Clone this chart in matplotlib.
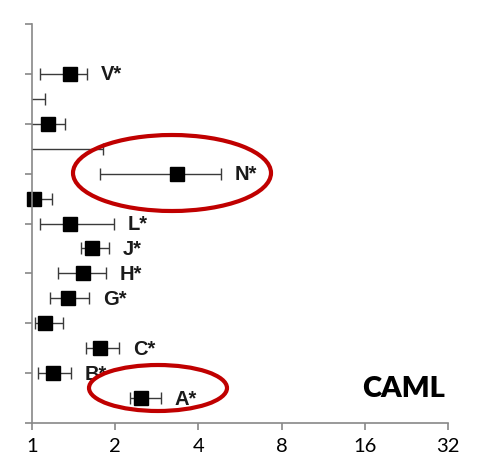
import numpy as np
import matplotlib
matplotlib.use("Agg")
import matplotlib.pyplot as plt
from matplotlib.patches import Ellipse

# rows from bottom (1) to top (14); blank label = unlabeled row
labels = ['A*', 'B*', 'C*', '', 'G*', 'H*', 'J*', 'L*', '', 'N*', '', '', '', 'V*']
means = [2.48, 1.19, 1.76, 1.11, 1.35, 1.53, 1.65, 1.37, 1.017, 3.34, 0.70, 1.145, 0.90, 1.37]
lows = [2.26, 1.054, 1.57, 1.025, 1.16, 1.245, 1.50, 1.07, 0.90, 1.76, 0.40, 0.97, 0.80, 1.07]
highs = [2.92, 1.38, 2.06, 1.29, 1.61, 1.85, 1.90, 1.98, 1.18, 4.82, 1.80, 1.32, 1.11, 1.585]
xticks = [1, 2, 4, 8, 16, 32]

W, H = 479, 460
fig = plt.figure(figsize=(W / 100, H / 100), dpi=100)
ax = fig.add_axes([32 / W, 1 - 424 / H, (448 - 32) / W, (424 - 25) / H])

rows = np.arange(1, len(labels) + 1)
means = np.array(means)
lows = np.array(lows)
highs = np.array(highs)

ax.errorbar(means, rows, xerr=[means - lows, highs - means], fmt='none',
            ecolor='#3a3a3a', elinewidth=1.0, capsize=4.3, capthick=1.0)
vis = means >= 1
ax.plot(means[vis], rows[vis], 's', color='black', markersize=10, clip_on=False)

for r, lab, hi in zip(rows, labels, highs):
    if lab:
        ax.annotate(lab, (hi, r), xytext=(10, 0), textcoords='offset points',
                    ha='left', va='center', fontsize=14.5, fontweight='bold',
                    family='Liberation Sans', color='#1a1a1a')

ax.set_xscale('log', base=2)
ax.set_xlim(1, 32)
ax.set_ylim(0, 16)
ax.set_xticks(xticks)
ax.set_xticklabels([str(t) for t in xticks], family='Lato', fontsize=14.5)
ax.set_yticks(np.arange(0, 17, 2))
ax.set_yticklabels([])
ax.minorticks_off()

for s in ['top', 'right']:
    ax.spines[s].set_visible(False)
for s in ['left', 'bottom']:
    ax.spines[s].set_color('#888888')
    ax.spines[s].set_linewidth(1.2)
ax.tick_params(axis='both', direction='out', length=5, width=1.2, color='#888888', pad=5)

ax.text(0.992, 0.088, 'CAML', transform=ax.transAxes, ha='right', va='center',
        fontsize=21, fontweight='heavy', family='Lato', color='black')

# red highlight ellipses (figure pixel positions)
for cx, cy, ew, eh in [(172, 174, 198, 76), (158, 389, 138, 46)]:
    fig.add_artist(Ellipse((cx / W, 1 - cy / H), ew / W, eh / H, transform=fig.transFigure,
                           fill=False, edgecolor='#c00000', linewidth=3))

fig.savefig('out.png', dpi=100)
